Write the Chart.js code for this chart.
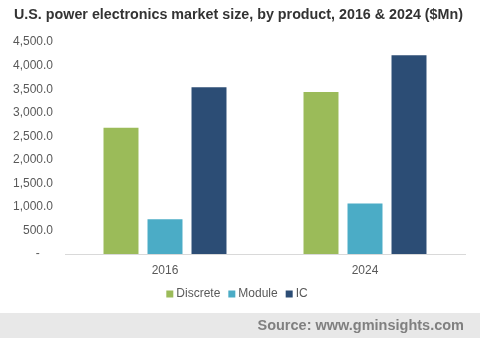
<!DOCTYPE html>
<html>
<head>
<meta charset="utf-8">
<script src="https://cdn.jsdelivr.net/npm/chart.js@4"></script>
<style>
  html, body { margin: 0; padding: 0; background: #fff; }
  #wrap { width: 480px; height: 338px; position: relative; }
</style>
</head>
<body>
<div id="wrap"><canvas id="chart" width="480" height="338"></canvas></div>
<script>
/* data */
const years = ['2016', '2024'];
const discrete = [2680, 3440];
const moduleVals = [740, 1075];
const ic = [3540, 4220];
const yTicks = [0, 500, 1000, 1500, 2000, 2500, 3000, 3500, 4000, 4500];

const FONT = "'Liberation Sans', Arial, sans-serif";
const fmt = v => v === 0 ? '-    ' : v.toLocaleString('en-US', {minimumFractionDigits: 1, maximumFractionDigits: 1});

/* grey source band at the bottom */
const footer = {
  id: 'footer',
  afterDraw(chart){
    const c = chart.ctx;
    c.save();
    c.fillStyle = '#e8e8e8';
    c.fillRect(0, 313, chart.width, chart.height - 313);
    c.fillStyle = '#808080';
    c.font = 'bold 14.5px ' + FONT;
    c.textAlign = 'right';
    c.textBaseline = 'middle';
    c.fillText('Source: www.gminsights.com', 464, 326);
    c.restore();
  }
};

new Chart(document.getElementById('chart'), {
  type: 'bar',
  data: {
    labels: years,
    datasets: [
      { label: 'Discrete', data: discrete, backgroundColor: '#9bbb59' },
      { label: 'Module', data: moduleVals, backgroundColor: '#4bacc6' },
      { label: 'IC', data: ic, backgroundColor: '#2c4d75' }
    ]
  },
  options: {
    responsive: false,
    animation: false,
    layout: { padding: { left: 12, right: 15, top: 0, bottom: 28 } },
    datasets: { bar: { categoryPercentage: 0.66, barPercentage: 0.795 } },
    plugins: {
      title: {
        display: true,
        text: 'U.S. power electronics market size, by product, 2016 & 2024 ($Mn)',
        color: '#333333',
        font: { family: FONT, size: 14.3, weight: 'bold' },
        padding: { top: 6, bottom: 19 }
      },
      legend: {
        position: 'bottom',
        labels: {
          color: '#595959',
          font: { family: FONT, size: 12 },
          usePointStyle: true, pointStyle: 'rect',
          boxWidth: 1, boxHeight: 7,
          padding: 11
        }
      },
      tooltip: { enabled: false }
    },
    scales: {
      x: {
        afterFit: s => { s.height = 23; },
        grid: { display: false, drawTicks: false },
        border: { color: '#d9d9d9' },
        ticks: { color: '#595959', font: { family: FONT, size: 12 }, padding: 9 }
      },
      y: {
        min: 0, max: 4500,
        afterBuildTicks: s => { s.ticks = yTicks.map(v => ({ value: v })); },
        afterFit: s => { s.width = 53; },
        grid: { display: false, drawTicks: false },
        border: { display: false },
        ticks: { color: '#595959', font: { family: FONT, size: 12 }, padding: 12, callback: fmt }
      }
    }
  },
  plugins: [footer]
});
</script>
</body>
</html>
